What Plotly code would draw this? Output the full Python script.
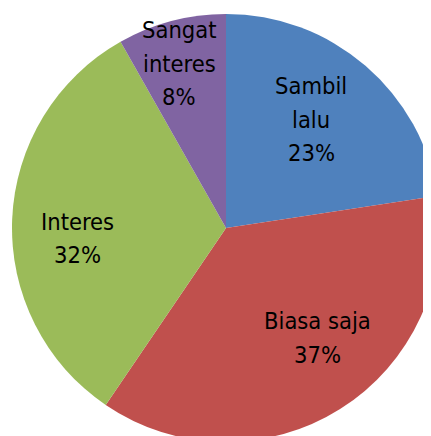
import plotly.graph_objects as go

labels = ["Sambil lalu", "Biasa saja", "Interes", "Sangat interes"]
label_lines = [["Sambil", "lalu"], ["Biasa saja"], ["Interes"], ["Sangat", "interes"]]
values = [22.6, 36.9, 32.3, 8.2]
colors = ["#4F81BD", "#C0504D", "#9BBB59", "#8064A2"]

W, H = 460, 460
OFF = 8  # page body margin
cx, cy, R = 226 - OFF, 228 - OFF, 214

fig = go.Figure(go.Pie(
    labels=labels, values=values, sort=False, direction="clockwise", rotation=0,
    marker=dict(colors=colors, line=dict(width=0)),
    textinfo="none", hoverinfo="label+percent", showlegend=False,
    domain=dict(x=[(cx - R) / W, (cx + R) / W], y=[1 - (cy + R) / H, 1 - (cy - R) / H]),
))

# label block anchor (x centre, y of first line centre) in window pixels
label_pos = [(311, 84), (317, 319), (77, 219.5), (179, 28)]
PITCH = 33.5
total = sum(values)
for lines, v, (px, py) in zip(label_lines, values, label_pos):
    all_lines = lines + [f"{round(100 * v / total)}%"]
    for i, ln in enumerate(all_lines):
        yy = py + i * PITCH + 2
        fig.add_annotation(
            text=ln,
            x=(px - OFF) / W, y=1 - (yy - OFF) / H, xref="paper", yref="paper",
            xanchor="center", yanchor="middle", showarrow=False,
            font=dict(family="DejaVu Sans Condensed, DejaVu Sans", size=23.5, color="#000000"),
        )

fig.update_layout(width=W, height=H, margin=dict(l=0, r=0, t=0, b=0),
                  paper_bgcolor="white", plot_bgcolor="white")
fig.write_html("out.html")
